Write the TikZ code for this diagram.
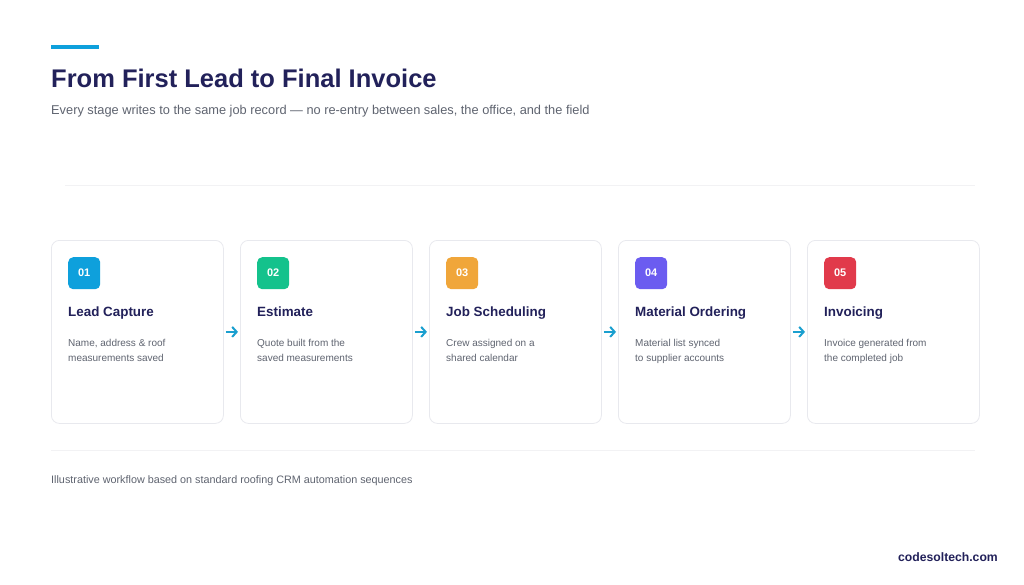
\documentclass[tikz,border=0pt]{standalone}
\usepackage{fontspec}
\setmainfont{Liberation Sans}
\usetikzlibrary{arrows.meta}

\definecolor{navy}{HTML}{22215A}
\definecolor{greytext}{HTML}{5F6470}
\definecolor{accent}{HTML}{0EA0DC}
\definecolor{cardline}{HTML}{E8E9EE}
\definecolor{rulegrey}{HTML}{F2F2F4}
\definecolor{arrowblue}{HTML}{1A9FCF}
\definecolor{badgeA}{HTML}{0EA0DC}
\definecolor{badgeB}{HTML}{14C28C}
\definecolor{badgeC}{HTML}{F0A63A}
\definecolor{badgeD}{HTML}{6B5CF0}
\definecolor{badgeE}{HTML}{E13A4B}

\tikzset{
  card/.style={draw=cardline, line width=0.8pt, rounded corners=8pt, fill=white,
    minimum width=172pt, minimum height=183pt, anchor=north west, inner sep=0pt},
  badge/.style={rounded corners=5pt, minimum width=32pt, minimum height=32pt,
    anchor=north west, inner sep=0pt, text=white, font=\fontsize{11}{12}\selectfont\bfseries},
  cardtitle/.style={anchor=base west, inner sep=0pt, text=navy,
    font=\fontsize{13.4}{16}\selectfont\bfseries},
  carddesc/.style={anchor=base west, inner sep=0pt, text=greytext, align=left,
    font=\fontsize{10}{15}\selectfont},
  flow/.style={arrowblue, line width=2pt, shorten <=2pt, shorten >=2pt,
    -{Straight Barb[length=4.5pt,width=10pt]}}
}

\begin{document}
\begin{tikzpicture}[x=1pt,y=-1pt]
  \useasboundingbox[fill=white] (0,0) rectangle (1024,584);

  % Kopfbereich
  \draw[accent, line width=4pt] (51,46.5) -- (99,46.5);
  \node[anchor=base west, inner sep=0pt, text=navy, font=\fontsize{25.5}{28}\selectfont\bfseries]
    (title) at (51,87) {From First Lead to Final Invoice};
  \node[anchor=base west, inner sep=0pt, text=greytext, font=\fontsize{12.8}{14}\selectfont]
    (subtitle) at (51,114) {Every stage writes to the same job record — no re-entry between sales, the office, and the field};
  \draw[rulegrey, line width=1pt] (65,185) -- (975,185);

  % Karten (Beschreibung: base = Grundlinie der zweiten Zeile)
  \foreach \i/\col/\head/\desc in {
      1/badgeA/Lead Capture/{Name, address \& roof\\measurements saved},
      2/badgeB/Estimate/{Quote built from the\\saved measurements},
      3/badgeC/Job Scheduling/{Crew assigned on a\\shared calendar},
      4/badgeD/Material Ordering/{Material list synced\\to supplier accounts},
      5/badgeE/Invoicing/{Invoice generated from\\the completed job}} {
    \pgfmathsetmacro{\xx}{51+(\i-1)*189}
    \node[card] (c\i) at (\xx,240) {};
    \node[badge, fill=\col] (b\i) at (\xx+17,257) {0\i};
    \node[cardtitle] (t\i) at (\xx+17,316) {\head};
    \node[carddesc] (d\i) at (\xx+17,361) {\desc};
  }

  % Pfeile zwischen den Karten
  \foreach \i [evaluate=\i as \j using int(\i+1)] in {1,2,3,4} {
    \draw[flow] (c\i.east) -- (c\j.west);
  }

  % Fußbereich
  \draw[rulegrey, line width=1pt] (51,450) -- (975,450);
  \node[anchor=base west, inner sep=0pt, text=greytext, font=\fontsize{10.8}{12}\selectfont]
    (note) at (51,483) {Illustrative workflow based on standard roofing CRM automation sequences};
  \node[anchor=base east, inner sep=0pt, text=navy, font=\fontsize{12.2}{13}\selectfont\bfseries]
    (brand) at (998,561) {codesoltech.com};
\end{tikzpicture}
\end{document}
